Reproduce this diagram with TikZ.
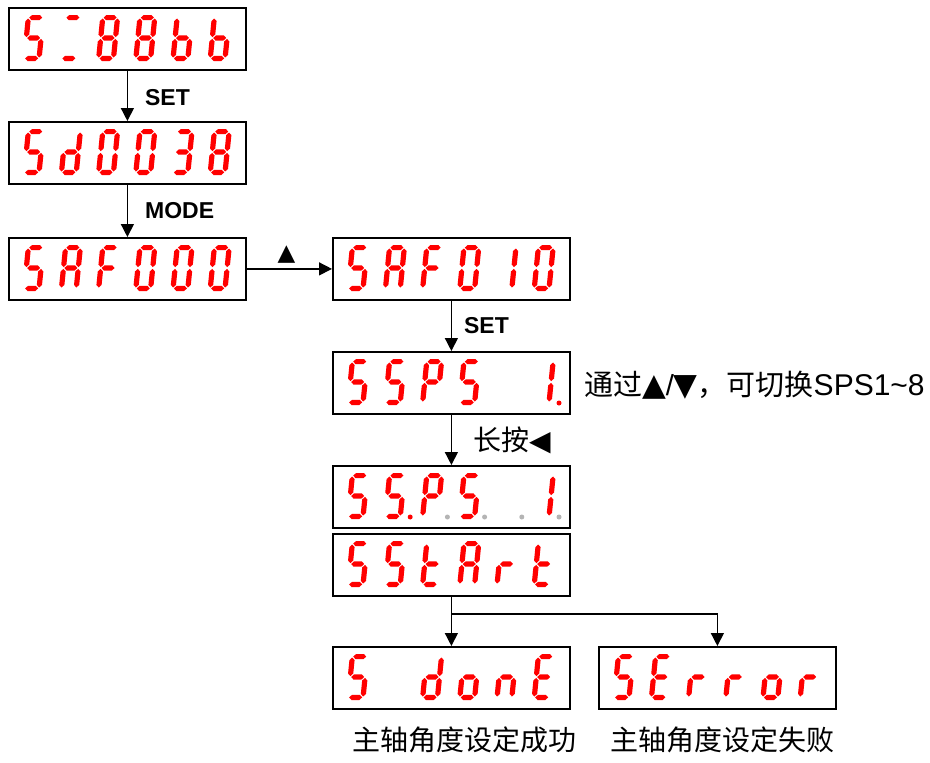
\documentclass[tikz,border=0pt]{standalone}
\usepackage{fontspec}
\setmainfont{Liberation Sans}
\newfontfamily\cjk{Noto Sans CJK SC}
\newfontfamily\symf{DejaVu Sans}
\usetikzlibrary{arrows.meta,calc}
\definecolor{segred}{RGB}{255,0,0}
\definecolor{dotgray}{RGB}{180,180,180}

\def\hh{2.6}
\newcommand\HS[3]{\fill[segred] (#1,#3) -- ({#1+\hh},{#3-\hh}) -- ({#2-\hh},{#3-\hh}) -- (#2,#3) -- ({#2-\hh},{#3+\hh}) -- ({#1+\hh},{#3+\hh}) -- cycle;}
\newcommand\VS[3]{\fill[segred] (#1,#2) -- ({#1+\hh},{#2+\hh}) -- ({#1+\hh},{#3-\hh}) -- (#1,#3) -- ({#1-\hh},{#3-\hh}) -- ({#1-\hh},{#2+\hh}) -- cycle;}
\def\sga{\HS{3.5}{16.5}{2.6}}
\def\sgg{\HS{3.5}{16.5}{23}}
\def\sgd{\HS{3.5}{16.5}{43.4}}
\def\sgf{\VS{2.6}{3.5}{22.1}}
\def\sge{\VS{2.6}{23.9}{42.5}}
\def\sgb{\VS{17.4}{3.5}{22.1}}
\def\sgc{\VS{17.4}{23.9}{42.5}}

\def\sdS{a,f,g,c,d}
\def\sdE{a,f,g,e,d}
\def\sdA{a,b,c,e,f,g}
\def\sdF{a,f,g,e}
\def\sdzero{a,b,c,d,e,f}
\def\sdeight{a,b,c,d,e,f,g}
\def\sdb{f,e,g,c,d}
\def\sdd{b,c,g,e,d}
\def\sdthree{a,b,g,c,d}
\def\sdone{b,c}
\def\sdP{a,b,f,g,e}
\def\sdt{f,e,g,d}
\def\sdr{e,g}
\def\sdn{e,g,c}
\def\sdo{g,c,d,e}

% #1 box name, #2 digit index, #3 segment list
\newcommand\dig[3]{\begin{scope}[shift={($(#1.north west)+({18.0+37.2*#2},8)$)},xslant=0.1]\foreach \s in #3 {\csname sg\s\endcsname}\end{scope}}
% decimal point: #1 box, #2 index, #3 colour
\newcommand\dpt[3]{\fill[#3] ($(#1.north west)+({41+37.2*#2},52)$) circle[radius=2.5pt];}

\tikzset{
  disp/.style={draw, line width=1.8pt, minimum width=237pt, minimum height=62pt, inner sep=0pt, anchor=north west, fill=white},
  arr/.style={line width=1.4pt, -{Triangle[length=13pt,width=13pt]}},
  lbl/.style={font=\bfseries\fontsize{23}{23}\selectfont, inner sep=0pt},
  cjktext/.style={font=\cjk\fontsize{28}{28}\selectfont, inner sep=0pt},
}

\begin{document}
\begin{tikzpicture}[x=1pt,y=-1pt]
\useasboundingbox (0,0) rectangle (930,763);

\node[disp] (b1) at (8,7) {};
\node[disp] (b2) at (8,121) {};
\node[disp] (b3) at (8,237) {};
\node[disp] (b4) at (332,237) {};
\node[disp] (b5) at (332,351) {};
\node[disp] (b6) at (332,465) {};
\node[disp] (b7) at (332,533) {};
\node[disp] (b8) at (332,646) {};
\node[disp] (b9) at (598,646) {};

% box 1
\dig{b1}{0}{\sdS}\dig{b1}{1}{{a,d}}\dig{b1}{2}{\sdeight}\dig{b1}{3}{\sdeight}\dig{b1}{4}{\sdb}\dig{b1}{5}{\sdb}
% box 2
\dig{b2}{0}{\sdS}\dig{b2}{1}{\sdd}\dig{b2}{2}{\sdzero}\dig{b2}{3}{\sdzero}\dig{b2}{4}{\sdthree}\dig{b2}{5}{\sdeight}
% box 3
\dig{b3}{0}{\sdS}\dig{b3}{1}{\sdA}\dig{b3}{2}{\sdF}\dig{b3}{3}{\sdzero}\dig{b3}{4}{\sdzero}\dig{b3}{5}{\sdzero}
% box 4
\dig{b4}{0}{\sdS}\dig{b4}{1}{\sdA}\dig{b4}{2}{\sdF}\dig{b4}{3}{\sdzero}\dig{b4}{4}{\sdone}\dig{b4}{5}{\sdzero}
% box 5
\dig{b5}{0}{\sdS}\dig{b5}{1}{\sdS}\dig{b5}{2}{\sdP}\dig{b5}{3}{\sdS}\dig{b5}{5}{\sdone}
\dpt{b5}{5}{segred}
% box 6
\dig{b6}{0}{\sdS}\dig{b6}{1}{\sdS}\dig{b6}{2}{\sdP}\dig{b6}{3}{\sdS}\dig{b6}{5}{\sdone}
\dpt{b6}{1}{segred}\dpt{b6}{2}{dotgray}\dpt{b6}{3}{dotgray}\dpt{b6}{4}{dotgray}\dpt{b6}{5}{dotgray}
% box 7
\dig{b7}{0}{\sdS}\dig{b7}{1}{\sdS}\dig{b7}{2}{\sdt}\dig{b7}{3}{\sdA}\dig{b7}{4}{\sdr}\dig{b7}{5}{\sdt}
% box 8
\dig{b8}{0}{\sdS}\dig{b8}{2}{\sdd}\dig{b8}{3}{\sdo}\dig{b8}{4}{\sdn}\dig{b8}{5}{\sdE}
% box 9
\dig{b9}{0}{\sdS}\dig{b9}{1}{\sdE}\dig{b9}{2}{\sdr}\dig{b9}{3}{\sdr}\dig{b9}{4}{\sdo}\dig{b9}{5}{\sdr}

% connectors
\draw[arr] (b1) -- node[lbl, anchor=west, xshift=17pt, yshift=-2pt] (l1) {SET} (b2);
\draw[arr] (b2) -- node[lbl, anchor=west, xshift=17pt] (l2) {MODE} (b3);
\draw[arr] (b3) -- node[anchor=south, inner sep=0pt, xshift=-3pt, yshift=5pt, font=\symf\fontsize{23}{23}\selectfont] (l3) {▲} (b4);
\draw[arr] (b4) -- node[lbl, anchor=west, xshift=12pt] (l4) {SET} (b5);
\draw[arr] (b5) -- node[cjktext, anchor=west, xshift=21pt] (l5) {长按{\symf ◀}} (b6);
\draw[arr] (b7) -- (b8);
\draw[arr] (b7.south) -- ++(0,17) -| (b9.north);

\node[cjktext, anchor=west, font=\cjk\fontsize{29}{29}\selectfont] (note) at ($(b5.east)+(13,2)$) {通过{\symf\fontsize{31}{31}\selectfont ▲}{\fontspec{Liberation Sans}/}{\symf\fontsize{31}{31}\selectfont ▼}，可切换{\fontspec{Liberation Sans}\fontsize{30}{30}\selectfont SPS1\textasciitilde 8}};

\node[cjktext] (c1) at (464,740) {主轴角度设定成功};
\node[cjktext] (c2) at (722,740) {主轴角度设定失败};
\end{tikzpicture}
\end{document}
